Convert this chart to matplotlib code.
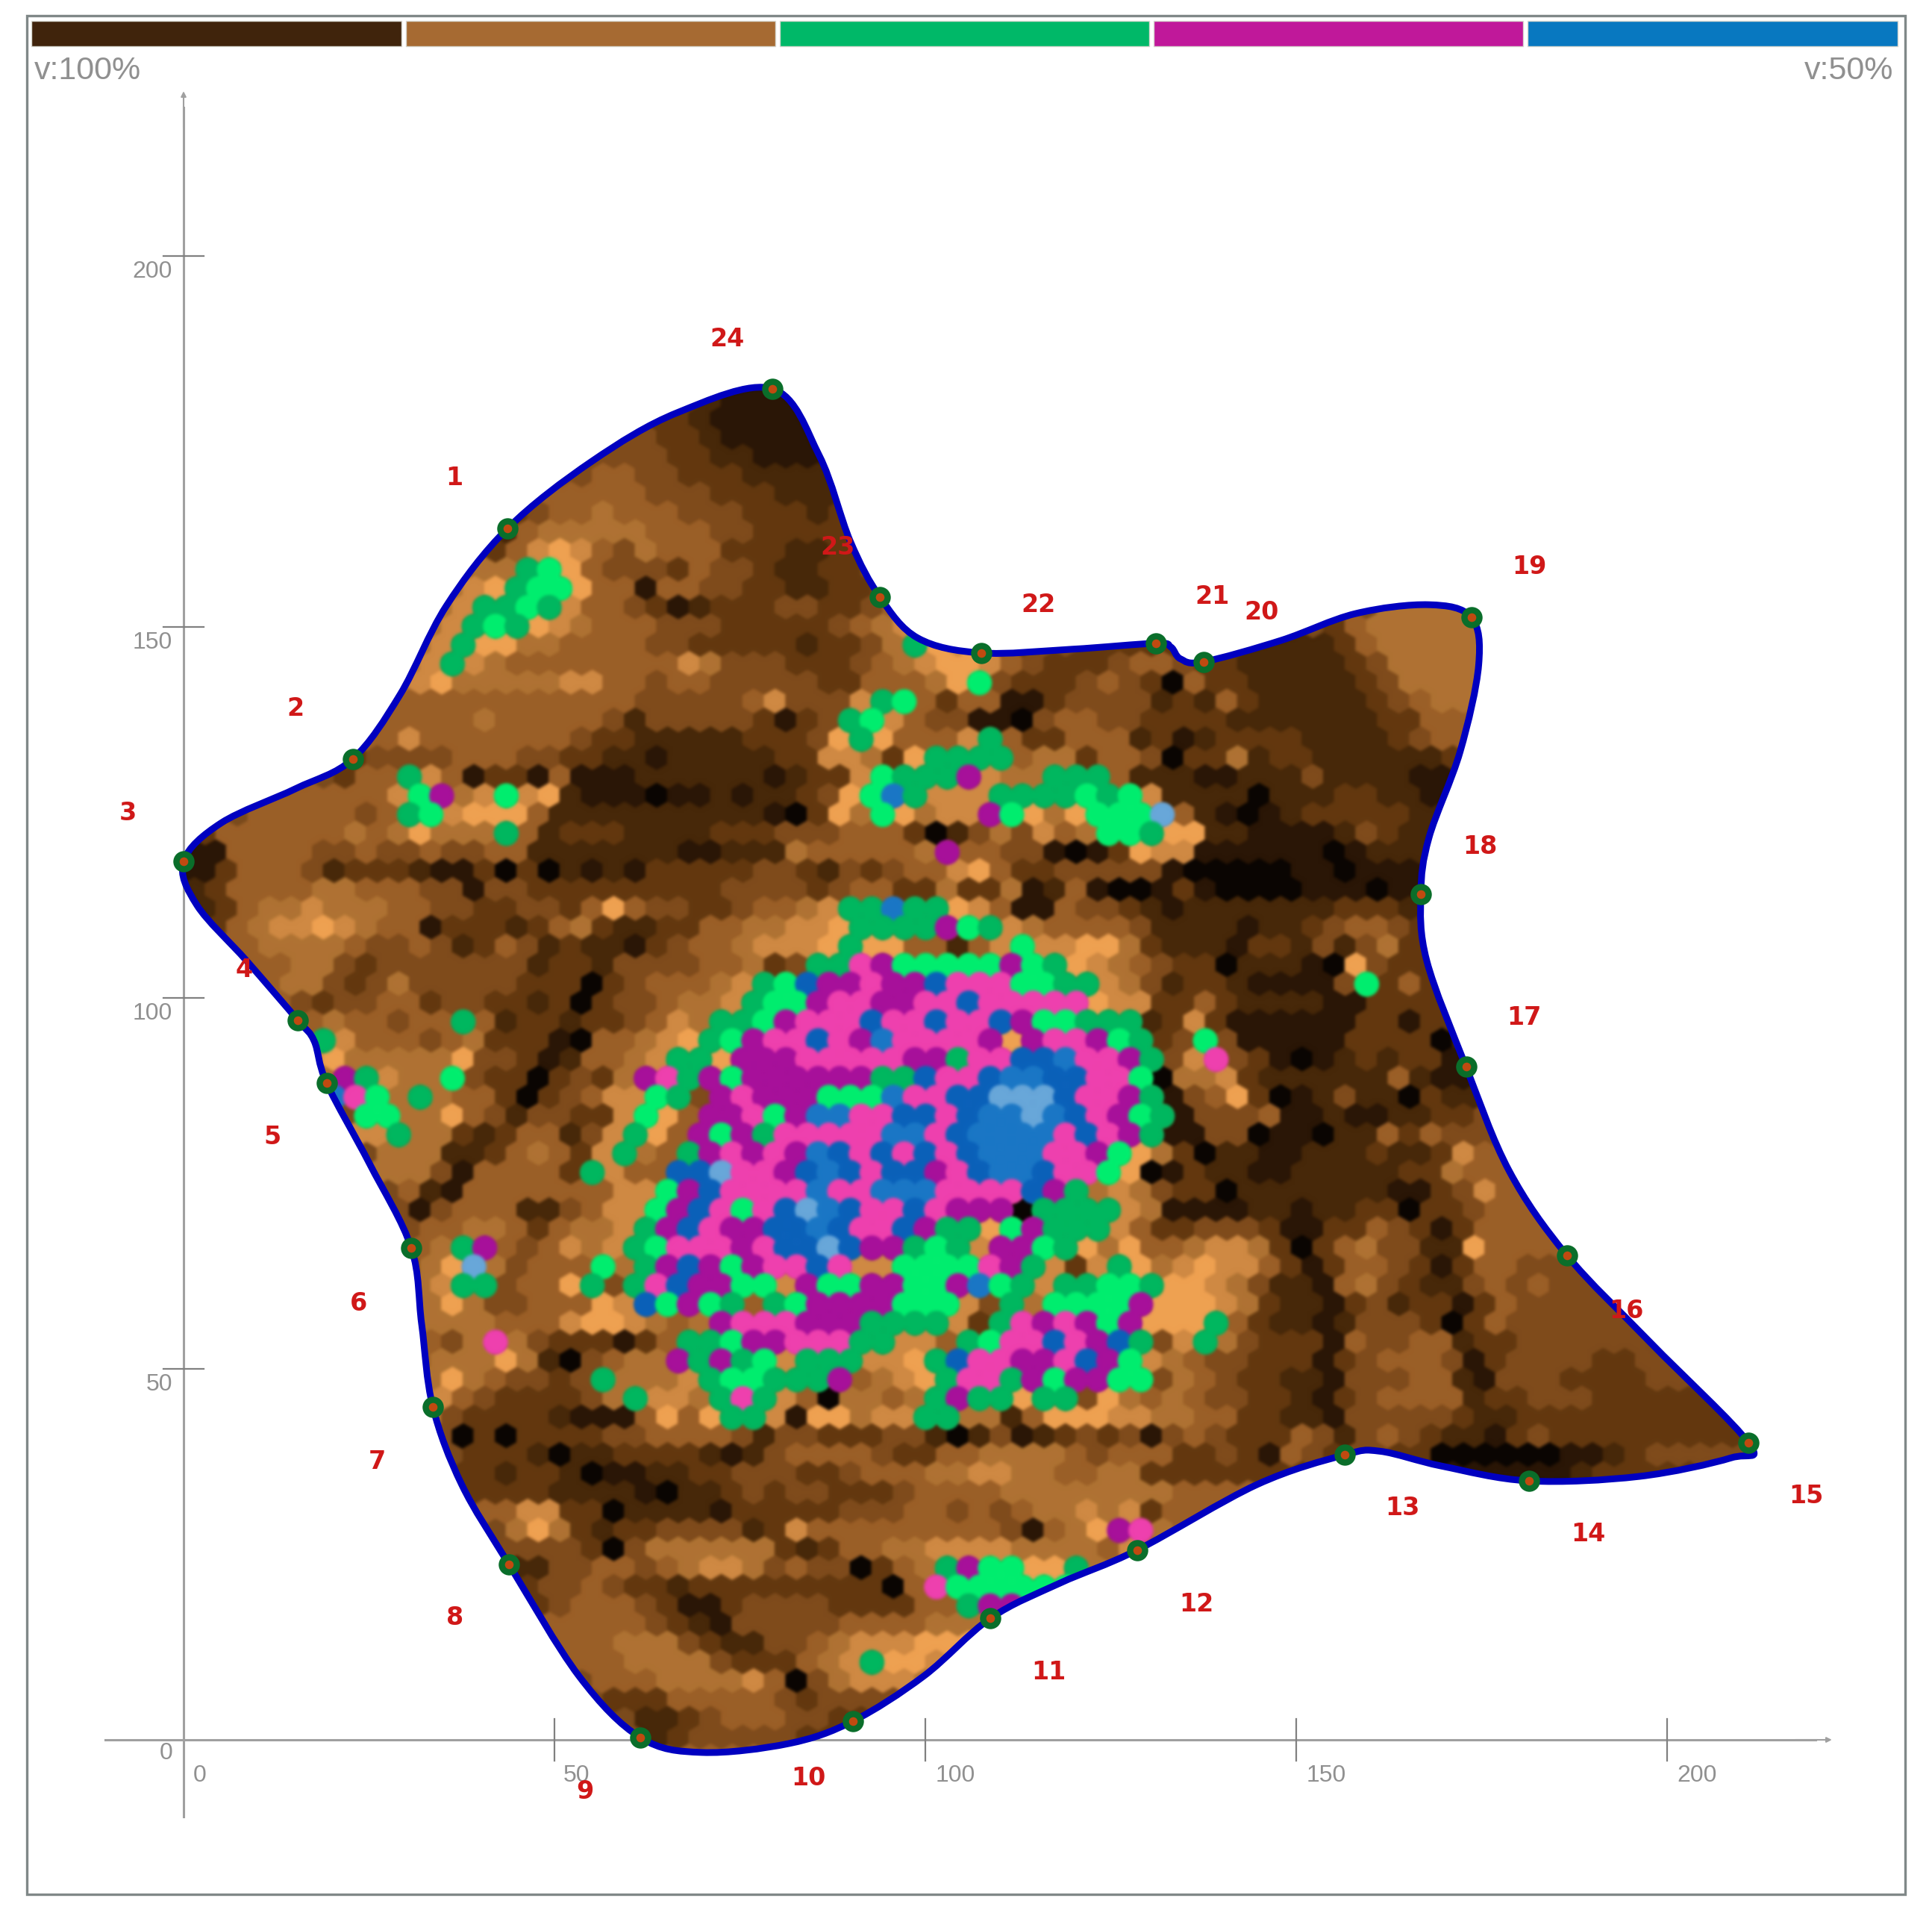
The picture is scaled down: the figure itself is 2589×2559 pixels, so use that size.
import numpy as np
import matplotlib
matplotlib.use("Agg")
import matplotlib.pyplot as plt
from matplotlib.path import Path
from matplotlib.patches import PathPatch, Rectangle

# ---- data ----------------------------------------------------------------
# one string per hex row, top to bottom; '.' = no cell; spaces are only for reading
# 0-8 brown levels dark to light, G/g greens, m/p magenta/pink, b/c/l blues
ROWS = [
".......... .......... ....111111",
".......... .......... ...3211111 11",
".......... .......... ..33211111 11",
".......... .......... 4433211111 11",
".......... .........4 4443322111 11",
".......... .......445 5443332222 22",
".......... ......4555 5544433322 222",
".......... .....34556 5554443332 333",
".......... ....225666 6655544333 333",
".......... ...2357875 4655533322 334",
".......... ...566Gg85 4443544322 3344",
".......... ..678Ggg85 5155443322 33445",
".......... ..67GGgG75 5431233344 3345...... .......... ......6666 6",
".......... .67GgG8765 5544433333 4567g..... .......... ...3566666 6",
".......... .67G886655 5544333332 3346G87843 4433333333 2222356666 66",
".......... 67G7655555 5557644433 3456788754 3334554332 2222346666 66",
".......... 6786666677 5545544444 3355568g43 3345430533 2222234666 66",
"......... 55555555555 5444445744 47Gg535511 3444423253 2222234566 66",
".........5 5555655555 4244444313 4Gg7544110 4554433332 2222223355 55",
"........55 7555555543 3222223334 8G85557G53 3555231233 3322223455 5",
".......334 4445554433 2212222233 77638GGGG5 6635540336 2332222223 3",
".......355 G751331511 1222222123 37gGGGm766 GGG5222112 2242222111",
"....555555 7gm67g7821 1101121223 48gcG777GG GGgGg72222 0222332211",
"...5555545 Gg78885222 2222222103 86g8677mg8 68gggl5210 1233333222",
".355555565 68666G5233 3222233344 4555302464 756ggG8822 1111243222",
"1155554454 4544552222 2221122265 55556m5544 1013877111 1110122222",
"1135554233 3211303021 2133333443 2434557853 3444441000 0011011111",
"2355556655 5441443333 3333344443 4553363361 2510013100 0011101111",
".235667666 5544334435 8544334556 7GGcGG8751 1544321222 2222333222",
".356778765 5133323563 2233556677 8GGGGmgG76 5555422221 2234554333",
"..55666654 4542354232 2134556777 8G8855257g 7788632221 3324246333",
"..55566434 4444442332 444455634G Gpmgggggmg G876543302 2210843333",
"...5566434 6444443330 3455567Ggb mmpmmbpppg gGG7642332 11114g3533",
"....543445 5344332303 445667Gggm ppmmppbppp pp87733532 2221133333",
".....45655 455G523323 34576GGgmp ppbppbppbm ggGGG23731 1111133133",
"......G755 5456333105 5678Ggmppb pmcppppm8m ppmgG34g41 1111333302",
"......7866 6668443125 567GG8mmmp ppppmmGppb bcppmG47p4 3101232331 0",
"......6mG7 66g4330343 6mpGmgmmmm mmGGbppbcc bbppg06673 2222225211 1",
".......cpg 6G65530345 77gG4mpmmm gggcppbbll lbppmG1458 3012422032 2",
"........gg 6685424433 7g85mmpgmc cppbbpbccl cbpmgG1444 5112112233 4",
"........77 G663235524 7G85mgmGpp pppccpbccc cpbpmG1144 0110225354 44",
".........6 6622356537 G65Gmpmpmc bpbpbpbccc ppmg863022 1122232237 55",
".........6 664155553G 755bblppmb cbpbbmpbcc bppg801322 1122222336 555",
".......... 5215555555 77gmbppppc ppcccppppb mG67643302 2222221134 7555",
".......... 4145552245 77gmbpgpbl cbppbpmmm0 GGGG761111 2212233033 4555",
".......... 4556653566 7Gmbpmmbbc bppbmGG8gm GGG7533444 3113354313 55555",
".......... 456Gm54576 7Ggpppmpbb lbmmGgG7mm gG86855677 6303564422 855554",
".......... 468l64555g 6Gmbmgmppb p77ggggpmG 737G867877 5313554313 554444",
".......... 567GG4558G 4Gpbmmgg7m ggmmggmcgG 7GGggG8876 4221564322 4545444",
".......... .686445558 7bgmgG5Ggm mmmggg74G6 ggggm88876 3221342331 35444444",
".......... .666655578 87656mpppm mmGGGG73Gp mpmgm888G5 3221244430 35444444",
".......... .546p64333 135GGgmmpp pGG775Ggpp bpmbG47G64 3331544552 33444444",
".......... .566686204 566mGmGg7G GG778Gbppm mpbmg76544 3331345554 1344443344",
".......... .68654434G 6667GggGGG m5678GppGm gmmgg46543 3221444552 1444333344 4",
".......... .675433334 6G776GpG75 06656GmGG8 GG48656544 3321345555 2334443333 33",
".......... .643333211 15858GG718 8677GG6625 8887766553 3221444443 2233333333 33",
".......... ..40303333 4455554244 3334420241 2343414543 3354245432 2134333333 333",
".......... ...3332022 3333212455 5543355666 6545553343 1543443300 0000112344 4443",
".......... ...3323320 1122334443 3455566776 6556633333 3333333211 1111123333 3333",
".......... ...3333222 2102234344 3334555566 6666665555 5533333333 3333333333 333",
".......... ....557733 0222213333 3444554545 6676735555 55",
".......... .....68632 3344442375 5555555541 568mp65555",
".......... .....44443 0466666632 3556677776 6665755555",
".......... .....22445 5456776454 40356Gmgg8 8G65555555",
".......... ......3445 4332333333 33305pgggg ggG5555555",
".......... ......3455 5431134444 333355Gmmg",
".......... .......555 5543214444 4555566666",
".......... .......555 6664322445 6777888888",
".......... ........55 5666643335 67G8877777",
".......... .........5 5566667504 6777666666",
".......... .......... 3335555543 4444444444",
".......... .......... .223455544 3322222222",
".......... .......... ..23444443 3322",
".......... .......... ...5555555 55",
]

# boundary curve points (x, y in chart units), clockwise from point 24
OUTLINE_X = [79.4,85.7,89.9,93.9,99.0,107.5,119.8,131.1,133.1,134.4,137.5,148.0,158.0,167.9,173.6,174.6,172.1,167.9,166.8,167.6,172.9,178.7,186.5,197.8,211.0,208.6,196.2,181.4,169.6,161.3,156.5,144.7,128.6,118.1,108.8,99.8,90.2,81.6,69.9,61.6,53.3,43.9,37.5,33.6,32.1,30.7,25.1,19.3,17.6,15.4,8.5,1.8,0.0,5.1,15.1,22.8,29.2,35.4,43.7,55.0,66.6]
OUTLINE_Y = [182.1,173.1,161.5,154.0,148.5,146.5,147.0,147.8,147.3,145.7,145.3,148.2,151.8,153.0,151.3,144.9,133.2,121.6,114.0,105.0,90.7,76.7,65.3,53.5,40.0,38.0,35.5,34.9,36.9,38.9,38.4,34.4,25.6,21.1,16.4,8.6,2.5,-0.5,-1.7,0.3,8.6,23.6,34.4,44.9,56.0,66.3,77.6,88.5,94.2,97.0,105.0,112.5,118.4,123.6,128.2,132.2,140.9,152.8,163.3,172.3,178.9]

# numbered boundary nodes 1..24
NODE_X = [43.7,22.8,0.0,15.4,19.3,30.7,33.6,43.9,61.6,90.2,108.8,128.6,156.5,181.4,211.0,186.5,172.9,166.8,173.6,137.5,131.1,107.5,93.9,79.4]
NODE_Y = [163.3,132.2,118.4,97.0,88.5,66.3,44.9,23.6,0.3,2.5,16.4,25.6,38.4,34.9,40.0,65.3,90.7,114.0,151.3,145.3,147.8,146.5,154.0,182.1]
NODE_NAMES = [str(i) for i in range(1, 25)]
NAME_PX = [(369,388),(240,575),(104,660),(198,787),(221,923),(291,1058),(306,1186),(369,1313),(475,1454),(656,1443),(851,1357),(971,1302),(1138,1224),(1289,1245),(1466,1214),(1320,1064),(1237,826),(1201,687),(1241,460),(1024,497),(984,484),(843,491),(680,444),(590,275)]

X_TICKS = [50, 100, 150, 200]
Y_TICKS = [50, 100, 150, 200]
SCALE_COLORS = ["#40240c", "#a66a32", "#00b868", "#c0189a", "#0878c0"]
SCALE_LABELS = ["v:100%", "v:50%"]

CELL_COLORS = {"0":"#0a0502","1":"#2a1606","2":"#472809","3":"#63380f","4":"#804c1c",
               "5":"#9c6028","6":"#b07434","7":"#d08a44","8":"#f0a252",
               "G":"#00b860","g":"#00f070","m":"#a8109c","p":"#f040b0",
               "b":"#0a62bc","c":"#1a78c8","l":"#68a8dc"}


def soften(img, dpi):
    """Small alpha-aware blur, the reference is a resampled bitmap."""
    pad = 6
    img = np.pad(img, ((pad, pad), (pad, pad), (0, 0)))
    a = img[..., 3:4]
    pm = np.concatenate([img[..., :3] * a, a], axis=2)
    w = np.array([1, 4, 8, 10, 8, 4, 1], float)
    w /= w.sum()
    for axis in (0, 1):
        pm = sum(wk * np.roll(pm, k - 3, axis=axis) for k, wk in enumerate(w))
    al = pm[..., 3:4]
    rgb = np.where(al > 1e-4, pm[..., :3] / np.maximum(al, 1e-4), 0)
    return np.clip(np.concatenate([rgb, al], axis=2), 0, 1), -pad, -pad


# ---- layout --------------------------------------------------------------
W, H = 2589, 2559
PX_PER_UNIT = 9.94
X0_PX, Y0_PX = 246, 2331
COL_PITCH, ROW_PITCH, ROW_TOP = 2.9, 2.539, 183.1
GREY = "#909090"
fig = plt.figure(figsize=(W/100, H/100), dpi=100, facecolor="white")

px = fig.add_axes([0, 0, 1, 1])
px.set_xlim(0, W); px.set_ylim(H, 0); px.axis("off")
ax = fig.add_axes([0, 0, 1, 1])
ax.set_xlim(-X0_PX/PX_PER_UNIT, (W-X0_PX)/PX_PER_UNIT)
ax.set_ylim((Y0_PX-H)/PX_PER_UNIT, Y0_PX/PX_PER_UNIT)
ax.axis("off"); ax.patch.set_alpha(0)

# frame and scale bar
px.add_patch(Rectangle((36, 21), 2517, 2517, fill=False, ec="#808888", lw=2.4))
edges = [42, 544, 1045, 1546, 2047, 2549]
for i, c in enumerate(SCALE_COLORS):
    px.add_patch(Rectangle((edges[i], 28), edges[i+1]-edges[i]-6, 34, fc=c, ec="#d8d8d0", lw=1))
px.text(46, 95, SCALE_LABELS[0], color=GREY, fontsize=31, family="Liberation Sans", va="center")
px.text(2537, 95, SCALE_LABELS[1], color=GREY, fontsize=31, family="Liberation Sans", va="center", ha="right")

# axes
axc = "#a0a0a0"
ax.plot([0, 0], [-10.4, 220], color=axc, lw=2.2, zorder=1)
ax.plot([-10.6, 220], [0, 0], color=axc, lw=2.2, zorder=1)
ax.annotate("", xy=(0, 222.5), xytext=(0, 217), arrowprops=dict(arrowstyle="-|>", color=axc, lw=1.5))
ax.annotate("", xy=(222.5, 0), xytext=(217, 0), arrowprops=dict(arrowstyle="-|>", color=axc, lw=1.5))
for t in X_TICKS:
    ax.plot([t, t], [-2.8, 2.8], color="#808080", lw=1.6, zorder=1)
    ax.text(t + (3 if t == 50 else 4), -4.8, str(t), color=GREY, fontsize=23, family="Liberation Sans", ha="center", va="center")
for t in Y_TICKS:
    ax.plot([-2.7, 2.7], [t, t], color="#808080", lw=1.6, zorder=1)
    ax.text(-1.5, t-2.1, str(t), color=GREY, fontsize=23, family="Liberation Sans", ha="right", va="center")
ax.text(2.2, -4.8, "0", color=GREY, fontsize=23, family="Liberation Sans", ha="center", va="center")
ax.text(-1.5, -1.8, "0", color=GREY, fontsize=23, family="Liberation Sans", ha="right", va="center")

# outline as a smooth closed path through the read points
P = np.column_stack([OUTLINE_X, OUTLINE_Y])
T = (np.roll(P, -1, axis=0) - np.roll(P, 1, axis=0)) / 6.0
verts, codes = [P[0]], [Path.MOVETO]
for k in range(len(P)):
    n = (k + 1) % len(P)
    verts += [P[k] + T[k], P[n] - T[n], P[n]]
    codes += [Path.CURVE4] * 3
ax.add_patch(PathPatch(Path(verts, codes), fc="#7a4a1c", ec="none", zorder=1.5))
ax.add_patch(PathPatch(Path(verts, codes), fc="none", ec="#0000c0", lw=6.5, zorder=5, joinstyle="round"))

# cells
bx, by, bc, vx, vy, vc = [], [], [], [], [], []
for i, row in enumerate(ROWS):
    row = row.replace(" ", "")
    for j, ch in enumerate(row):
        if ch == ".":
            continue
        x = (j + 0.5 * (i % 2)) * COL_PITCH
        y = ROW_TOP - i * ROW_PITCH
        if ch.isdigit():
            bx.append(x); by.append(y); bc.append(CELL_COLORS[ch])
        else:
            vx.append(x); vy.append(y); vc.append(CELL_COLORS[ch])
s1 = ax.scatter(bx, by, c=bc, marker="h", s=640, linewidths=0, zorder=2)
s2 = ax.scatter(vx, vy, c=vc, marker="o", s=580, linewidths=0, zorder=3)
clip = PathPatch(Path(verts, codes), transform=ax.transData)
s1.set_clip_path(clip); s2.set_clip_path(clip)
s1.set_agg_filter(soften); s2.set_agg_filter(soften)

# nodes
ax.scatter(NODE_X, NODE_Y, s=420, c="#0a6e2a", linewidths=0, zorder=6)
ax.scatter(NODE_X, NODE_Y, s=70, c="#c04a10", linewidths=0, zorder=7)

# numbered labels
for name, (sx, sy) in zip(NODE_NAMES, NAME_PX):
    px_x, px_y = sx * W / 1568, sy * H / 1550
    ax.text((px_x - X0_PX)/PX_PER_UNIT, (Y0_PX - px_y)/PX_PER_UNIT, name, color="#d01818",
            fontsize=24, family="DejaVu Sans", fontweight="bold", ha="center", va="center", zorder=8)

fig.savefig("out.png", dpi=100, facecolor="white")
